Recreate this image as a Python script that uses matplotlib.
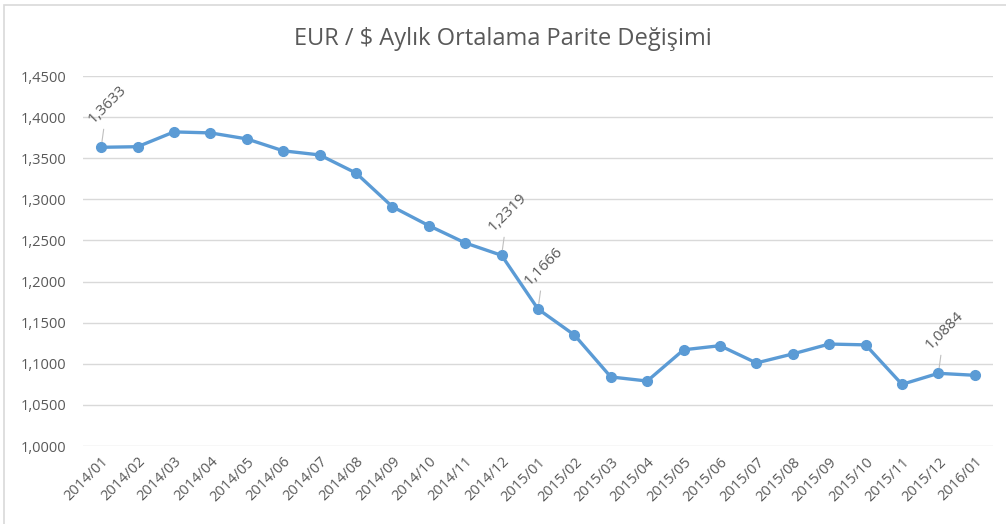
import matplotlib.pyplot as plt
from matplotlib.patches import Rectangle

months = ['2014/01', '2014/02', '2014/03', '2014/04', '2014/05', '2014/06',
          '2014/07', '2014/08', '2014/09', '2014/10', '2014/11', '2014/12',
          '2015/01', '2015/02', '2015/03', '2015/04', '2015/05', '2015/06',
          '2015/07', '2015/08', '2015/09', '2015/10', '2015/11', '2015/12',
          '2016/01']
parity = [1.3633, 1.3640, 1.3820, 1.3808, 1.3735, 1.3590, 1.3540, 1.3320,
          1.2910, 1.2680, 1.2470, 1.2319, 1.1666, 1.1350, 1.0840, 1.0790,
          1.1170, 1.1220, 1.1010, 1.1120, 1.1240, 1.1230, 1.0750, 1.0884,
          1.0860]
labelled = [0, 11, 12, 23]
yticks = [1.0, 1.05, 1.1, 1.15, 1.2, 1.25, 1.3, 1.35, 1.4, 1.45]

plt.rcParams['font.family'] = ['Open Sans', 'DejaVu Sans']
grey = '#595959'
blue = '#5B9BD5'

fig = plt.figure(figsize=(10.06, 5.24), dpi=100)
ax = fig.add_axes([83 / 1006, 78 / 524, 910 / 1006, 370 / 524])
fig.patches.append(Rectangle((0.004, -0.01), 1.1, 1.0, transform=fig.transFigure,
                             fill=False, edgecolor='#d9d9d9', linewidth=1.2))

x = list(range(len(months)))
ax.plot(x, parity, color=blue, linewidth=2.4, marker='o', markersize=7, zorder=3)

for i in labelled:
    txt = f'{parity[i]:.4f}'.replace('.', ',')
    ax.annotate(txt, xy=(x[i], parity[i]), xytext=(-4, 15), textcoords='offset points',
                rotation=45, rotation_mode='anchor', ha='left', va='bottom',
                fontsize=11, color=grey,
                arrowprops=dict(arrowstyle='-', color='#bfbfbf', lw=0.8,
                                shrinkA=0, shrinkB=4))

ax.set_xlim(-0.5, len(months) - 0.5)
ax.set_ylim(1.0, 1.45)
ax.set_yticks(yticks)
ax.set_yticklabels([f'{v:.4f}'.replace('.', ',') for v in yticks])
ax.set_xticks(x)
ax.set_xticklabels(months, rotation=45, ha='right', rotation_mode='anchor')
ax.tick_params(axis='both', length=0, labelcolor=grey)
ax.tick_params(axis='y', pad=12, labelsize=10.5)
ax.tick_params(axis='x', pad=6, labelsize=10.5)
ax.grid(axis='y', color='#d9d9d9', linewidth=1)
ax.set_axisbelow(True)
for s in ax.spines.values():
    s.set_visible(False)

fig.suptitle('EUR / $ Aylık Ortalama Parite Değişimi', y=0.948, fontsize=17, color=grey)

fig.savefig('out.png', dpi=100)
